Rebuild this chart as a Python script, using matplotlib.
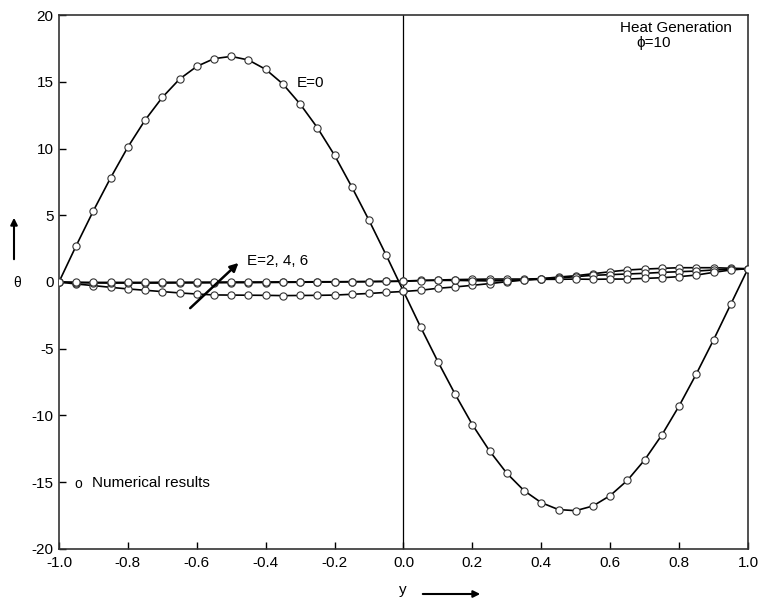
import matplotlib
matplotlib.use("Agg")
import matplotlib.pyplot as plt
import numpy as np

plt.rcParams['font.family'] = ['Liberation Sans', 'DejaVu Sans']
plt.rcParams['axes.unicode_minus'] = False

# y positions of the computed points (step 0.05)
y_pos = np.round(np.arange(-1.0, 1.0001, 0.05), 2)

# theta for E=0
theta_e0 = [0.0, 2.72, 5.34, 7.81, 10.11, 12.13, 13.83, 15.20, 16.15, 16.73,
            16.90, 16.63, 15.93, 14.83, 13.33, 11.56, 9.49, 7.12, 4.62, 2.00,
            -0.70,
            -3.39, -5.97, -8.41, -10.69, -12.66, -14.33, -15.63, -16.53, -17.05, -17.13,
            -16.78, -16.00, -14.86, -13.33, -11.46, -9.29, -6.89, -4.34, -1.67, 1.00]

# theta for E=2, 4, 6
theta_a = [0.0, -0.15, -0.27, -0.40, -0.52, -0.62, -0.72, -0.82, -0.90, -0.97,
           -0.98, -0.99, -1.00, -1.02, -1.01, -1.00, -0.98, -0.92, -0.86, -0.78,
           -0.71,
           -0.62, -0.47, -0.37, -0.25, -0.12, 0.02, 0.15, 0.25, 0.37, 0.47,
           0.62, 0.77, 0.90, 0.97, 1.02, 1.07, 1.07, 1.07, 1.03, 1.00]
theta_b = [0.0, -0.05, -0.07, -0.08, -0.08, -0.08, -0.08, -0.07, -0.07, -0.06,
           -0.05, -0.05, -0.04, -0.03, -0.02, -0.01, 0.00, 0.01, 0.03, 0.05,
           0.07,
           0.12, 0.15, 0.18, 0.20, 0.22, 0.22, 0.22, 0.25, 0.30, 0.40,
           0.50, 0.55, 0.60, 0.65, 0.72, 0.77, 0.82, 0.90, 0.95, 1.00]
theta_c = [0.0, -0.02, -0.03, -0.03, -0.03, -0.03, -0.02, -0.02, -0.01, -0.01,
           0.00, 0.00, 0.00, 0.01, 0.01, 0.02, 0.02, 0.03, 0.03, 0.04,
           0.05,
           0.10, 0.12, 0.12, 0.10, 0.08, 0.10, 0.15, 0.20, 0.20, 0.22,
           0.20, 0.22, 0.22, 0.27, 0.32, 0.40, 0.52, 0.72, 0.90, 1.00]

x_ticks = [-1.0, -0.8, -0.6, -0.4, -0.2, 0.0, 0.2, 0.4, 0.6, 0.8, 1.0]
y_ticks = [-20, -15, -10, -5, 0, 5, 10, 15, 20]

fig = plt.figure(figsize=(7.62, 6.03), dpi=100)
ax = fig.add_axes([0.0774, 0.0896, 0.9042, 0.8855])

for th in [theta_e0, theta_a, theta_b, theta_c]:
    ax.plot(y_pos, th, color='black', lw=1.2, zorder=2)
    ax.plot(y_pos, th, ls='none', marker='o', ms=5.2, mfc='white',
            mec='#333333', mew=0.8, zorder=3)

ax.axvline(0.0, color='black', lw=0.9, zorder=1)

ax.set_xlim(-1.0, 1.0)
ax.set_ylim(-20, 20)
ax.set_xticks(x_ticks)
ax.set_xticklabels(['%.1f' % v for v in x_ticks])
ax.set_yticks(y_ticks)
ax.set_yticklabels([str(v) for v in y_ticks])
ax.tick_params(direction='in', length=5, width=1, labelsize=11,
               top=False, right=False)
ax.tick_params(axis='x', pad=5)
ax.tick_params(axis='y', pad=4)
for s in ax.spines.values():
    s.set_color('#333333')
    s.set_linewidth(1.2)

ax.text(-0.31, 14.9, 'E=0', fontsize=11, va='center', ha='left')
ax.text(-0.455, 1.55, 'E=2, 4, 6', fontsize=11, va='center', ha='left')
ax.annotate('', xy=(-0.473, 1.57), xytext=(-0.625, -2.1),
            arrowprops=dict(arrowstyle='-|>', color='black', lw=1.8,
                            mutation_scale=12))
ax.text(0.628, 19.0, 'Heat Generation', fontsize=11, va='center', ha='left')
ax.text(0.675, 17.9, 'ϕ=10', fontsize=11, va='center', ha='left')
ax.text(-0.955, -15.1, 'o', fontsize=10, va='center', ha='left')
ax.text(-0.904, -15.06, 'Numerical results', fontsize=11, va='center', ha='left')

# axis labels with arrows
fig.text(17 / 762, 1 - 283 / 603, 'θ', fontsize=10, ha='center', va='center')
fig.add_artist(matplotlib.patches.FancyArrowPatch(
    (14 / 762, 1 - 262 / 603), (14 / 762, 1 - 215 / 603),
    transform=fig.transFigure, arrowstyle='-|>', color='black', lw=1.5,
    mutation_scale=10))
fig.text(403 / 762, 1 - 590 / 603, 'y', fontsize=11, ha='center', va='center')
fig.add_artist(matplotlib.patches.FancyArrowPatch(
    (420 / 762, 1 - 594 / 603), (483 / 762, 1 - 594 / 603),
    transform=fig.transFigure, arrowstyle='-|>', color='black', lw=1.5,
    mutation_scale=10))

fig.savefig('out.png', dpi=100)
